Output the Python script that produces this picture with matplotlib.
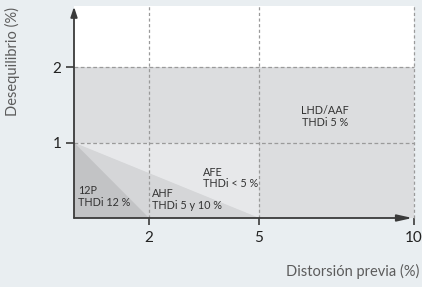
import numpy as np
import matplotlib
matplotlib.use("Agg")
import matplotlib.pyplot as plt

# Data
x_breaks = [0, 2, 5, 10]          # distortion values at axis breaks
x_pixels = [0, 75, 185, 340]      # relative spacing used in the original scale
x_ticks = [2, 5, 10]
y_ticks = [1, 2]

zone_names = ["LHD/AAF\nTHDi 5 %", "AFE\nTHDi < 5 %", "AHF\nTHDi 5 y 10 %", "12P\nTHDi 12 %"]
zone_x = [[0, 10, 10, 0], [0, 5, 5], [0, 5, 0], [0, 2, 0]]
zone_y = [[0, 0, 2, 2], [1, 1, 0], [1, 0, 0], [1, 0, 0]]
zone_colors = ["#dcdddf", "#e7e8ea", "#d5d6d8", "#c2c3c5"]
label_x = [7.13, 3.47, 2.08, 0.12]
label_y = [1.35, 0.53, 0.25, 0.28]
label_ha = ["center", "left", "left", "left"]

plt.rcParams["font.family"] = ["Lato", "DejaVu Sans"]

fig = plt.figure(figsize=(4.22, 2.87), dpi=100, facecolor="#e9eef1")
ax = fig.add_axes([74 / 422, 69 / 287, 340 / 422, 212 / 287])
ax.set_facecolor("white")


def fwd(x):
    return np.interp(x, x_breaks, x_pixels)


def inv(x):
    return np.interp(x, x_pixels, x_breaks)


ax.set_xscale("function", functions=(fwd, inv))
ax.set_xlim(0, 10)
ax.set_ylim(0, 2.81)

for xs, ys, c in zip(zone_x, zone_y, zone_colors):
    ax.fill(xs, ys, color=c, lw=0, zorder=1)

for name, lx, ly, ha in zip(zone_names, label_x, label_y, label_ha):
    ax.text(lx, ly, name, ha=ha, va="center", fontsize=7.8, color="#333333",
            linespacing=1.1, zorder=4)

# dashed guide lines
for xv in x_ticks:
    ax.plot([xv, xv], [0, 2.81], ls=(0, (2.5, 2)), color="#9a9a9a", lw=0.9,
            zorder=2, clip_on=False)
for yv in y_ticks:
    ax.plot([0, 10], [yv, yv], ls=(0, (3, 2)), color="#9a9a9a", lw=0.9,
            zorder=2, clip_on=False)

for s in ax.spines.values():
    s.set_visible(False)

# axes with arrows
ax.annotate("", xy=(0, 2.8), xytext=(0, 0),
            arrowprops=dict(arrowstyle="-|>,head_length=0.6,head_width=0.2",
                            color="#3a3a3a", lw=1.3, shrinkA=0, shrinkB=0),
            zorder=5, annotation_clip=False)
ax.annotate("", xy=(9.95, 0), xytext=(0, 0),
            arrowprops=dict(arrowstyle="-|>,head_length=0.9,head_width=0.2",
                            color="#3a3a3a", lw=1.3, shrinkA=0, shrinkB=0),
            zorder=5, annotation_clip=False)

ax.set_xticks(x_ticks)
ax.set_xticklabels([str(v) for v in x_ticks])
ax.set_yticks(y_ticks)
ax.set_yticklabels([str(v) for v in y_ticks])
ax.tick_params(axis="x", direction="out", length=5, width=1.2, color="#3a3a3a",
               labelsize=11, labelcolor="#222222", pad=4)
ax.tick_params(axis="y", direction="out", length=6, width=1.2, color="#3a3a3a",
               labelsize=11, labelcolor="#222222", pad=3)

fig.text(12 / 422, 1 - 62 / 287, "Desequilibrio (%)", rotation=90, ha="center",
         va="center", fontsize=10.5, color="#5c5c5c")
fig.text(419 / 422, 1 - 271 / 287, "Distorsión previa (%)", ha="right",
         va="center", fontsize=10.5, color="#5c5c5c")

fig.savefig("out.png", dpi=100, facecolor=fig.get_facecolor())
